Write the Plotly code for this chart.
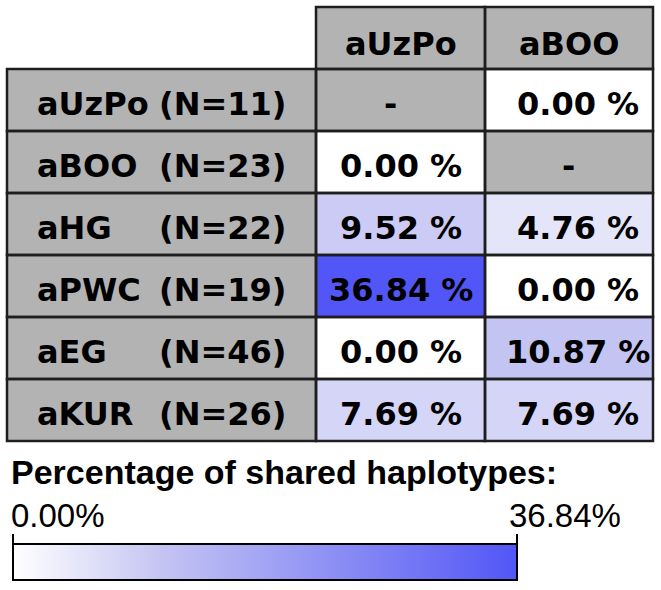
import plotly.graph_objects as go

# ---------------- data ----------------
col_names = ["aUzPo", "aBOO"]
row_names = ["aUzPo", "aBOO", "aHG", "aPWC", "aEG", "aKUR"]
row_n = [11, 23, 22, 19, 46, 26]
share_vs_aUzPo = [None, 0.00, 9.52, 36.84, 0.00, 7.69]
share_vs_aBOO = [0.00, None, 4.76, 0.00, 10.87, 7.69]
scale_min, scale_max = 0.00, 36.84
legend_title = "Percentage of shared haplotypes:"

# ---------------- layout constants ----------------
W, H = 661, 590
TX0, TY0 = 7, 7                      # table top-left in px
col_edges = [0, 309, 478, 646]       # label column + 2 data columns
row_edges = [0, 62, 124, 186, 248, 310, 372, 434]
PAD = 3
GRAY = "#b3b3b3"
LINE = "#1e1e1e"
colorscale = [[0.0, "#ffffff"], [0.3, "#c3c3f3"], [1.0, "#5256f6"]]

cols = [share_vs_aUzPo, share_vs_aBOO]
z_data = [[cols[c][r] for c in range(len(cols))] for r in range(len(row_names))]

# gray cells: header row, label column, diagonal (no value)
z_gray = [[None] + [1] * len(col_names)]
for r in range(len(row_names)):
    z_gray.append([1] + [1 if z_data[r][c] is None else None for c in range(len(col_names))])

fig = go.Figure()
fig.add_trace(go.Heatmap(
    z=z_gray, x=col_edges, y=row_edges,
    colorscale=[[0, GRAY], [1, GRAY]], showscale=False, hoverinfo="skip",
))
fig.add_trace(go.Heatmap(
    z=z_data, x=col_edges[1:], y=row_edges[1:],
    zmin=scale_min, zmax=scale_max, colorscale=colorscale,
    colorbar=dict(
        orientation="h", lenmode="pixels", len=504,
        thicknessmode="pixels", thickness=36,
        x=(13 + 517) / 2 / W, xanchor="center",
        y=(H - 563) / H, yanchor="middle",
        xpad=0, ypad=0, outlinewidth=2, outlinecolor="black",
        ticks="", showticklabels=False,
    ),
    hoverinfo="skip",
))

shapes = []
# cell borders
for r in range(len(row_edges) - 1):
    for c in range(len(col_edges) - 1):
        if r == 0 and c == 0:
            continue
        shapes.append(dict(type="rect", xref="x", yref="y",
                           x0=col_edges[c], x1=col_edges[c + 1],
                           y0=row_edges[r], y1=row_edges[r + 1],
                           line=dict(color=LINE, width=2.5), layer="above"))
# colorbar end ticks
for px in (13, 517):
    shapes.append(dict(type="line", xref="paper", yref="paper",
                       x0=px / W, x1=px / W, y0=(H - 545) / H, y1=(H - 534) / H,
                       line=dict(color="black", width=2)))

bold = dict(family="DejaVu Sans", size=32, color="black", weight="bold")
ann = []
YS = -4
# header
for c, name in enumerate(col_names):
    xc = (col_edges[c + 1] + col_edges[c + 2]) / 2
    ann.append(dict(x=xc, y=(row_edges[0] + row_edges[1]) / 2, xref="x", yref="y",
                    text=name, showarrow=False, font=bold, yshift=YS - 2))
# rows
for r, (name, n) in enumerate(zip(row_names, row_n)):
    yc = (row_edges[r + 1] + row_edges[r + 2]) / 2
    ann.append(dict(x=28, y=yc, xref="x", yref="y", text=name, xanchor="left",
                    showarrow=False, font=bold, yshift=YS))
    ann.append(dict(x=281, y=yc, xref="x", yref="y", text=f"(N={n})", xanchor="right",
                    showarrow=False, font=bold, yshift=YS))
    for c in range(len(col_names)):
        v = z_data[r][c]
        xc = (col_edges[c + 1] + col_edges[c + 2]) / 2
        txt = "-" if v is None else f"{v:.2f} %"
        xs = (-10 if v is None else 0) + (9 if c == 1 else 0)
        ann.append(dict(x=xc, y=yc, xref="x", yref="y", text=txt, showarrow=False,
                        font=bold, yshift=YS, xshift=xs))

# legend texts
ann.append(dict(x=9 / W, y=(H - 472) / H, xref="paper", yref="paper", xanchor="left",
                yanchor="middle", text=legend_title, showarrow=False,
                font=dict(family="Liberation Sans", size=34, color="black", weight="bold")))
reg = dict(family="Liberation Sans", size=33, color="black")
ann.append(dict(x=9 / W, y=(H - 515) / H, xref="paper", yref="paper", xanchor="left",
                yanchor="middle", text=f"{scale_min:.2f}%", showarrow=False, font=reg))
ann.append(dict(x=507 / W, y=(H - 515) / H, xref="paper", yref="paper", xanchor="left",
                yanchor="middle", text=f"{scale_max:.2f}%", showarrow=False, font=reg))

fig.update_layout(
    width=W, height=H, margin=dict(l=0, r=0, t=0, b=0),
    paper_bgcolor="white", plot_bgcolor="white",
    xaxis=dict(domain=[(TX0 - PAD) / W, (TX0 + col_edges[-1] + PAD) / W],
               range=[-PAD, col_edges[-1] + PAD], visible=False, fixedrange=True),
    yaxis=dict(domain=[1 - (TY0 + row_edges[-1] + PAD) / H, 1 - (TY0 - PAD) / H],
               range=[row_edges[-1] + PAD, -PAD], visible=False, fixedrange=True),
    shapes=shapes, annotations=ann, showlegend=False,
)

fig.write_html("out.html", config={"displayModeBar": False},
               post_script="document.body.style.margin='0';document.body.style.overflow='hidden';")
